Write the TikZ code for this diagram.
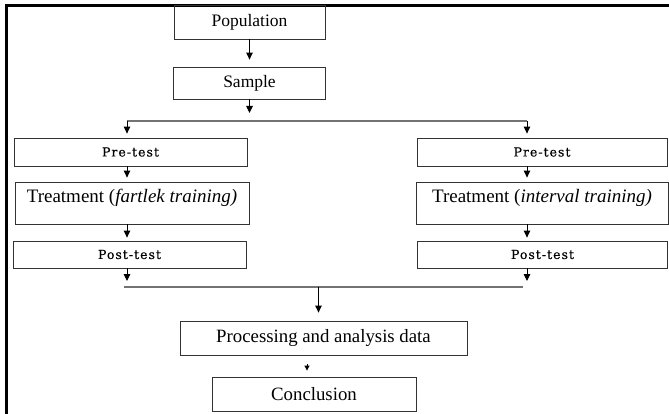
\documentclass[tikz,border=0pt]{standalone}
\usepackage{fontspec}
\setmainfont{Liberation Serif}
\newfontfamily\testfont[LetterSpace=8,FakeBold=0.3]{DejaVu Serif}
\usetikzlibrary{arrows.meta}
\begin{document}
\begin{tikzpicture}[x=1pt,y=-1pt,
  box/.style={draw=black!80, line width=0.8pt, inner sep=0pt, font=\fontsize{18.8}{20}\selectfont},
  trbox/.style={box, font=\fontsize{19}{21}\selectfont, text height=21pt, text depth=21pt, inner ysep=0pt},
  testbox/.style={box, font=\testfont\fontsize{12.5}{14}\selectfont},
  arr/.style={-{Triangle[length=7pt,width=6.5pt]}, line width=0.9pt},
  smallarr/.style={-{Triangle[length=5pt,width=5pt]}, line width=0.8pt},
  hline/.style={draw=black!55, line width=1.2pt}]
\useasboundingbox (0,0) rectangle (669,414);
\draw[line width=2.4pt] (669,5.5) -- (6.5,5.5) -- (6.5,414);

\node[box, minimum width=151pt, minimum height=34pt, font=\fontsize{17.5}{19}\selectfont] (pop) at (249.5,22) {Population};
\node[box, minimum width=152pt, minimum height=32pt, font=\fontsize{17.5}{19}\selectfont] (samp) at (249.5,83) {Sample};

\node[testbox, minimum width=233pt, minimum height=28pt] (preL) at (130.5,152) {Pre-test};
\node[testbox, minimum width=250pt, minimum height=28pt] (preR) at (542,152) {Pre-test};
\node[trbox, minimum width=234pt] (trL) at (132,203) {Treatment (\textit{fartlek training)}};
\node[trbox, minimum width=252pt] (trR) at (542,203) {Treatment (\textit{interval training)}};
\node[testbox, minimum width=233pt, minimum height=27pt] (postL) at (129.5,254.5) {Post-test};
\node[testbox, minimum width=250pt, minimum height=27pt] (postR) at (542.5,254.5) {Post-test};

\node[box, minimum width=287pt, minimum height=34pt] (proc) at (323.5,338) {Processing and analysis data};
\node[box, minimum width=204pt, minimum height=34pt] (concl) at (314,394) {Conclusion};

% top part
\draw[arr, shorten >=7pt] (pop.south) -- (samp.north);
\coordinate (sampend) at (249.5,113);
\draw[arr] (samp.south) -- (sampend);
\coordinate (spL) at (127,121);
\coordinate (spR) at (527,121);
\draw[hline] (spL) -- (spR);
\draw[arr, shorten >=4pt] (spL) -- (spL |- preL.north);
\draw[arr, shorten >=4pt] (spR) -- (spR |- preR.north);

% left column
\draw[arr, shorten >=4pt] (preL.south -| spL) -- (trL.north -| spL);
\draw[arr, shorten >=3pt] (trL.south -| spL) -- (postL.north -| spL);
\coordinate (endL) at (127,281);
\draw[arr] (postL.south -| spL) -- (endL);

% right column
\draw[arr, shorten >=4pt] (preR.south -| spR) -- (trR.north -| spR);
\draw[arr, shorten >=3pt] (trR.south -| spR) -- (postR.north -| spR);
\coordinate (endR) at (527,281);
\draw[arr] (postR.south -| spR) -- (endR);

% merge
\coordinate (jL) at (124,287);
\coordinate (jR) at (523,287);
\draw[hline] (jL) -- (jR);
\coordinate (jM) at (318.5,287);
\draw[arr, shorten >=8pt] (jM) -- (jM |- proc.north);

\coordinate (pa) at (307,360);
\draw[smallarr, shorten <=9pt, shorten >=6pt] (proc.south -| pa) -- (concl.north -| pa);
\end{tikzpicture}
\end{document}
